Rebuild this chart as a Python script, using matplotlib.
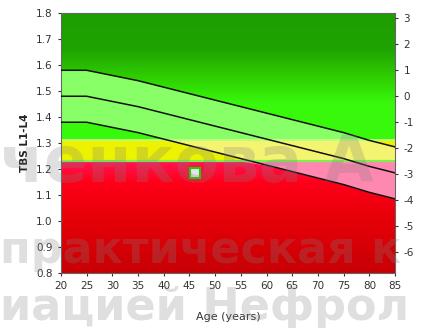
import numpy as np
import matplotlib.pyplot as plt

# reference curve (TBS L1-L4 by age)
ages = [20, 25, 30, 35, 40, 45, 50, 55, 60, 65, 70, 75, 80, 85]
tbs_mean = [1.48, 1.48, 1.46, 1.44, 1.415, 1.39, 1.365, 1.34, 1.315, 1.29, 1.265, 1.24, 1.21, 1.185]
tbs_plus1sd = [1.58, 1.58, 1.56, 1.54, 1.515, 1.49, 1.465, 1.44, 1.415, 1.39, 1.365, 1.34, 1.31, 1.285]
tbs_minus1sd = [1.38, 1.38, 1.36, 1.34, 1.315, 1.29, 1.265, 1.24, 1.215, 1.19, 1.165, 1.14, 1.11, 1.085]

# category thresholds
degraded_max = 1.23
partial_max = 1.31

# patient measurement
patient_age = [46]
patient_tbs = [1.185]

# right axis (z-score)
young_mean = 1.48
sd = 0.10
z_ticks = [3, 2, 1, 0, -1, -2, -3, -4, -5, -6]

x_ticks = list(range(20, 90, 5))
y_ticks = [0.8, 0.9, 1.0, 1.1, 1.2, 1.3, 1.4, 1.5, 1.6, 1.7, 1.8]

# watermark lines of the source image
watermark = ['ченкова А', 'практическая к', 'иацией Нефрол']

fig = plt.figure(figsize=(4.23, 3.28), dpi=100)
ax = fig.add_axes([0.144, 0.168, 0.79, 0.792])
ax.set_xlim(20, 85)
ax.set_ylim(0.8, 1.8)

# background: gradient green / yellow / gradient red
yy = np.linspace(0.8, 1.8, 600)
stops_y = [0.8, 1.0, 1.15, 1.229, 1.23, 1.31, 1.311, 1.45, 1.56, 1.66, 1.8]
stops_c = np.array([
    [0.78, 0.0, 0.02],
    [0.90, 0.0, 0.03],
    [1.00, 0.0, 0.10],
    [1.00, 0.08, 0.33],
    [0.93, 0.95, 0.0],
    [0.93, 0.95, 0.0],
    [0.22, 0.98, 0.05],
    [0.22, 0.98, 0.05],
    [0.18, 0.80, 0.0],
    [0.12, 0.64, 0.0],
    [0.12, 0.62, 0.0],
])
img = np.stack([np.interp(yy, stops_y, stops_c[:, k]) for k in range(3)], axis=-1)
img = np.repeat(img[:, None, :], 2, axis=1)
ax.imshow(img, origin='lower', extent=[20, 85, 0.8, 1.8], aspect='auto', zorder=0)

# +/-1 SD band, coloured per zone
lo = np.array(tbs_minus1sd)
hi = np.array(tbs_plus1sd)
ax.fill_between(ages, np.maximum(lo, partial_max), np.maximum(hi, partial_max),
                color='#88ff66', lw=0, zorder=1)
ax.fill_between(ages, np.clip(lo, degraded_max, partial_max), np.clip(hi, degraded_max, partial_max),
                color='#f4f470', lw=0, zorder=1)
ax.fill_between(ages, np.minimum(lo, degraded_max), np.minimum(hi, degraded_max),
                color='#ff88b0', lw=0, zorder=1)

ax.axhline(partial_max, color='#c0ff80', lw=1.3, zorder=2)
ax.axhline(degraded_max, color='#80f050', lw=1.6, zorder=2)

for vals in (tbs_plus1sd, tbs_mean, tbs_minus1sd):
    ax.plot(ages, vals, color='#111111', lw=1.1, zorder=3)

ax.plot(patient_age, patient_tbs, marker='s', ms=7, mfc='#e4e4e4', mec='#22cc00',
        mew=1.5, ls='none', zorder=4)

ax.set_xticks(x_ticks)
ax.set_yticks(y_ticks)
ax.set_yticklabels([f"{v:.1f}" for v in y_ticks])
ax.tick_params(labelsize=7.5, length=2.5, colors='#333333', labelcolor='#333333')
ax.set_ylabel('TBS L1-L4', fontsize=7.5, fontweight='bold', color='#222222', labelpad=4)
ax.set_xlabel('Age (years)', fontsize=8, color='#333333', labelpad=15)
for s in ax.spines.values():
    s.set_color('#666666')
    s.set_linewidth(0.8)

ax2 = ax.twinx()
ax2.set_ylim((0.8 - young_mean) / sd, (1.8 - young_mean) / sd)
ax2.set_yticks(z_ticks)
ax2.set_yticklabels([str(z) for z in z_ticks])
ax2.tick_params(labelsize=7.5, length=2.5, colors='#333333', labelcolor='#333333')
for s in ax2.spines.values():
    s.set_visible(False)

# faint watermark
wm = dict(color='#808080', alpha=0.25, fontweight='bold', zorder=10)
fig.text(0.0, 0.445, watermark[0], fontsize=46, **wm)
fig.text(0.0, 0.198, watermark[1], fontsize=32, **wm)
fig.text(0.0, 0.024, watermark[2], fontsize=32, **wm)

fig.savefig('out.png', dpi=100)
